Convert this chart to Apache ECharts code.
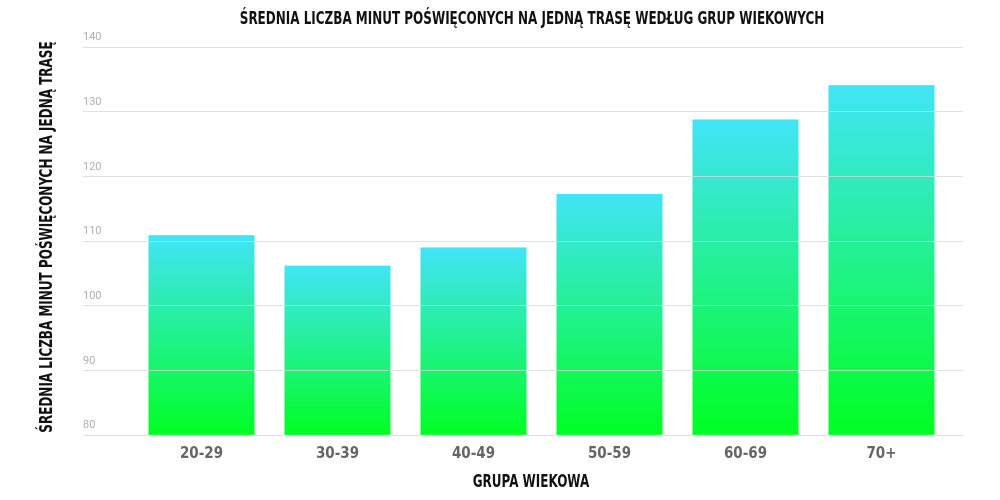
<!DOCTYPE html>
<html>
<head>
<meta charset="utf-8">
<script src="https://cdn.jsdelivr.net/npm/echarts@6/dist/echarts.min.js"></script>
<style>
    html, body { margin: 0; padding: 0; background: #fff; }
    #chart { width: 1000px; height: 500px; }
</style>
</head>
<body>
<div id="chart"></div>
<script>
    const ageGroups = ['20-29', '30-39', '40-49', '50-59', '60-69', '70+']
    const avgMinutes = [111.0, 106.3, 109.1, 117.4, 128.9, 134.2]
    const yTicks = { min: 80, max: 140, step: 10 }

    const titleText = 'ŚREDNIA LICZBA MINUT POŚWIĘCONYCH NA JEDNĄ TRASĘ WEDŁUG GRUP WIEKOWYCH'
    const yName = 'ŚREDNIA LICZBA MINUT POŚWIĘCONYCH NA JEDNĄ TRASĘ'
    const xName = 'GRUPA WIEKOWA'

    const condensed = '"Liberation Sans Narrow", "DejaVu Sans Condensed", sans-serif'
    const headFont = 'bold 18px ' + condensed

    const chart = echarts.init(document.getElementById('chart'))
    const option = {
        backgroundColor: '#fff',
        animation: false,
        // headings are squeezed horizontally to mimic the narrow display face
        graphic: [
            {
                type: 'text', x: 532, y: 19, scaleX: 0.74,
                style: { text: titleText, font: headFont, fill: '#111', align: 'center', verticalAlign: 'middle' }
            },
            {
                type: 'text', x: 47, y: 237, rotation: Math.PI / 2, scaleX: 0.74,
                style: { text: yName, font: headFont, fill: '#111', align: 'center', verticalAlign: 'middle' }
            },
            {
                type: 'text', x: 531, y: 482, scaleX: 0.74,
                style: { text: xName, font: headFont, fill: '#111', align: 'center', verticalAlign: 'middle' }
            }
        ],
        grid: [
            // wide grid: only carries the split lines and y labels
            { left: 83, right: 37, top: 47, bottom: 65, outerBoundsMode: 'none' },
            // bar grid
            { left: 133.5, right: 50.5, top: 47, bottom: 65, outerBoundsMode: 'none' }
        ],
        xAxis: [
            {
                gridIndex: 0,
                type: 'value',
                show: false
            },
            {
                gridIndex: 1,
                type: 'category',
                data: ageGroups,
                axisLine: { show: false },
                axisTick: { show: false },
                axisLabel: {
                    margin: 12,
                    fontFamily: condensed,
                    fontWeight: 'bold',
                    fontSize: 15,
                    color: '#666'
                }
            }
        ],
        yAxis: [
            {
                gridIndex: 0,
                type: 'value',
                min: yTicks.min,
                max: yTicks.max,
                interval: yTicks.step,
                z: 5,
                axisLine: { show: false },
                axisTick: { show: false },
                splitLine: {
                    lineStyle: { color: 'rgba(215, 215, 215, 0.75)', width: 1 }
                },
                axisLabel: {
                    inside: true,
                    margin: 0,
                    verticalAlign: 'bottom',
                    padding: [0, 0, 4, 0],
                    fontFamily: 'Roboto, sans-serif',
                    fontSize: 11,
                    color: '#b0b0b0'
                }
            },
            {
                gridIndex: 1,
                type: 'value',
                min: yTicks.min,
                max: yTicks.max,
                show: false
            }
        ],
        series: [{
            type: 'bar',
            xAxisIndex: 1,
            yAxisIndex: 1,
            data: avgMinutes,
            barCategoryGap: '21%',
            itemStyle: {
                borderColor: 'rgba(255, 255, 255, 0.35)',
                borderWidth: 1,
                color: new echarts.graphic.LinearGradient(0, 0, 0, 1, [
                    { offset: 0, color: '#42e4f8' },
                    { offset: 1, color: '#00ff22' }
                ])
            }
        }]
    }
    chart.setOption(option)
</script>
</body>
</html>
